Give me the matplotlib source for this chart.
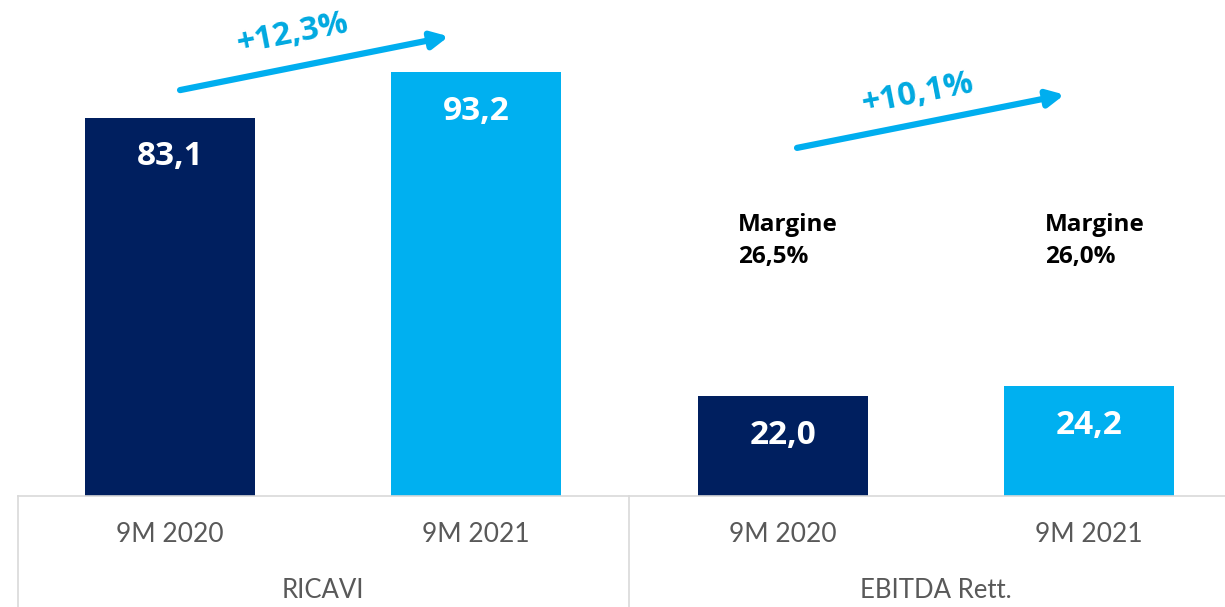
import matplotlib.pyplot as plt

categories = ["9M 2020", "9M 2021", "9M 2020", "9M 2021"]
groups = ["RICAVI", "EBITDA Rett."]
values = [83.1, 93.2, 22.0, 24.2]
value_labels = ["83,1", "93,2", "22,0", "24,2"]
growth_labels = ["+12,3%", "+10,1%"]
margins = ["Margine\n26,5%", "Margine\n26,0%"]

navy = "#001F5F"
light = "#00B0F0"
colors = [navy, light, navy, light]
grid = "#D9D9D9"

plt.rcParams['font.family'] = ['Lato', 'DejaVu Sans']
bold_font = ['Open Sans', 'DejaVu Sans']

fig = plt.figure(figsize=(12.25, 6.07), dpi=100)
ax = fig.add_axes([18 / 1225, 111 / 607, 1 - 18 / 1225, 496 / 607])

x = list(range(len(values)))
ax.bar(x, values, width=0.555, color=colors, zorder=2)
ax.set_xlim(-0.496, 3.444)
ax.set_ylim(0, 109)

# value labels inside bars
for xi, v, lab in zip(x, values, value_labels):
    ax.text(xi, v - 8.6, lab, ha="center", va="center", color="white",
            fontsize=24, fontweight="bold", family=bold_font)

# growth arrows
arrows = [((0.033, 89.2), (0.91, 101.0)), ((2.047, 76.5), (2.92, 88.2))]
text_pos = [(0.40, 101.6), (2.44, 88.4)]
for (start, end), (tx, ty), lab in zip(arrows, text_pos, growth_labels):
    ax.annotate("", xy=end, xytext=start,
                arrowprops=dict(arrowstyle="-|>,head_length=1.0,head_width=0.5",
                                color="#00AEEF", lw=4.5, shrinkA=0, shrinkB=0))
    ax.text(tx, ty, lab, ha="center", va="center", rotation=11, color="#00A9E0",
            fontsize=23.5, fontweight="bold", family=bold_font)

# margin notes
for xi, m in zip([2, 3], margins):
    ax.text(xi - 0.145, 56, m, ha="left", va="center", fontsize=17.5,
            fontweight="bold", color="black", linespacing=1.42, family=bold_font)

# category axis table
for s in ["top", "right", "left"]:
    ax.spines[s].set_visible(False)
ax.spines["bottom"].set_color(grid)
ax.spines["bottom"].set_linewidth(1.2)
ax.set_yticks([])
ax.set_xticks(x)
ax.set_xticklabels(categories, fontsize=19, color="#595959")
ax.tick_params(axis="x", length=0, pad=19)

for xv in [-0.496, 1.5, 3.5]:
    ax.plot([xv, xv], [0, -25], color=grid, lw=1.2, clip_on=False)
for gx, g in zip([0.5, 2.5], groups):
    ax.text(gx, -20.8, g, ha="center", va="center", fontsize=18.5, color="#595959")

fig.savefig("out.png", dpi=100)
